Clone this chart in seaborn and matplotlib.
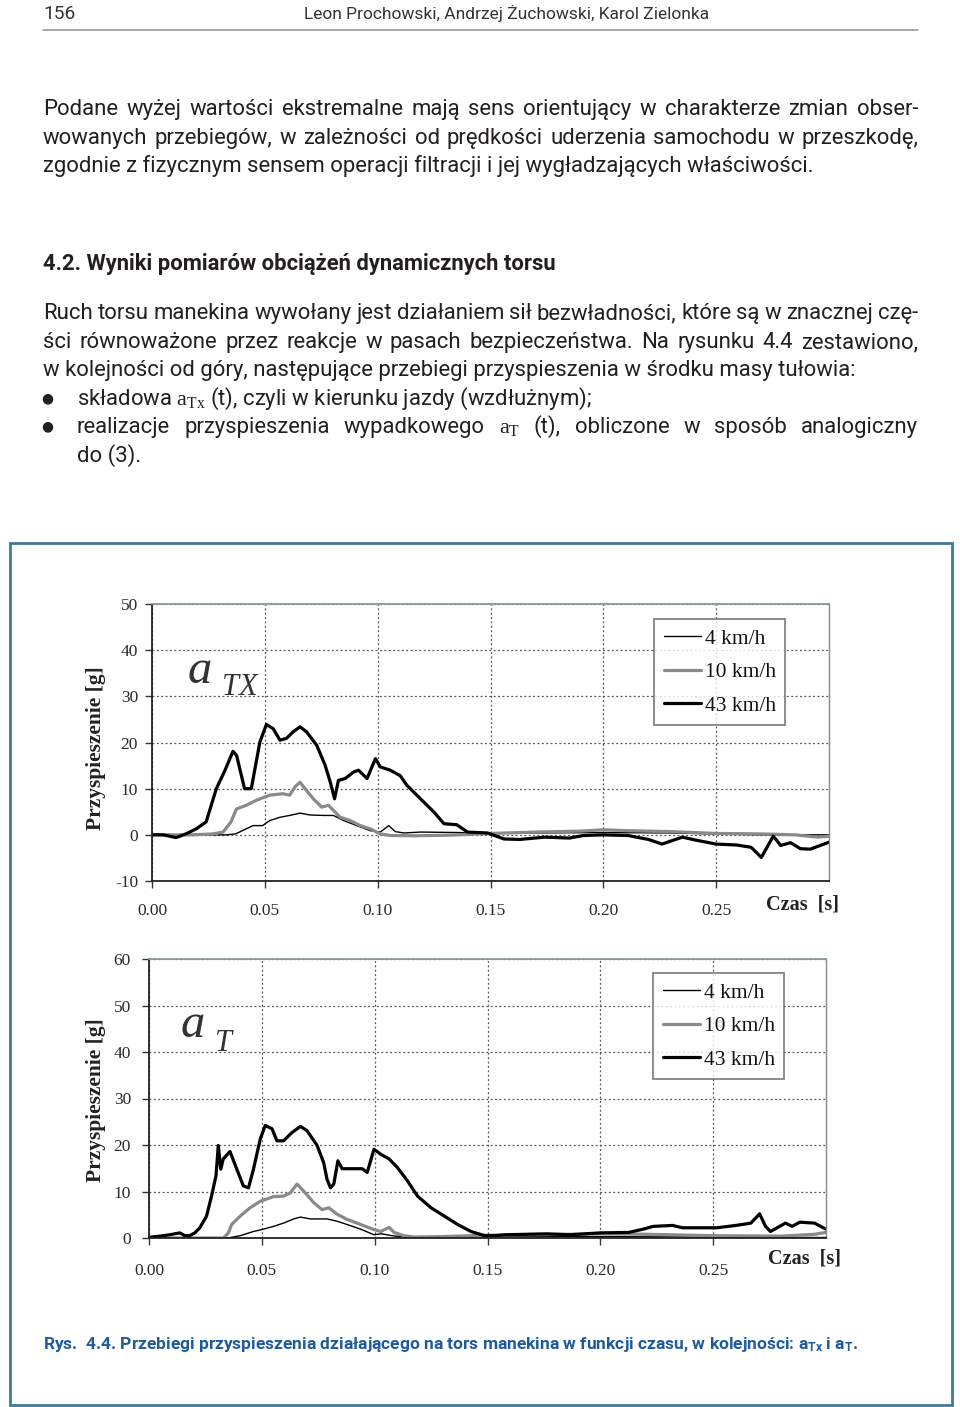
import matplotlib
matplotlib.use('Agg')
import matplotlib.pyplot as plt
import seaborn as sns
import pandas as pd
from matplotlib.patches import Rectangle

# ---------------- data: a_Tx (upper chart) ----------------
tx_t_43 = [0, 0.005, 0.0107, 0.015, 0.0196, 0.024, 0.0285, 0.032, 0.0359, 0.0375,
           0.041, 0.044, 0.0478, 0.0507, 0.0537, 0.0567, 0.0596, 0.0625, 0.0656, 0.0685,
           0.073, 0.0767, 0.079, 0.0809, 0.0826, 0.0856, 0.0893, 0.0915, 0.0953, 0.099,
           0.1012, 0.1056, 0.110, 0.113, 0.119, 0.125, 0.1294, 0.135, 0.1398, 0.1487,
           0.156, 0.163, 0.174, 0.185, 0.191, 0.2, 0.211, 0.22, 0.226, 0.235,
           0.2415, 0.25, 0.259, 0.2655, 0.27, 0.273, 0.2753, 0.2786, 0.283, 0.2873,
           0.2917, 0.30]
tx_v_43 = [0, 0, -0.6, 0.2, 1.3, 2.8, 10, 13.6, 18.1, 17.2,
           10, 10, 20.1, 23.9, 23, 20.5, 20.9, 22.3, 23.4, 22.3,
           19.4, 15.1, 11.4, 7.8, 11.8, 12.2, 13.6, 14, 12.2, 16.5,
           14.7, 14, 12.8, 10.7, 7.8, 4.9, 2.4, 2.2, 0.6, 0.4,
           -0.9, -1, -0.5, -0.7, -0.15, 0, -0.15, -1, -2, -0.5,
           -1.2, -2, -2.2, -2.7, -4.9, -2.3, -0.3, -2.3, -1.7, -3,
           -3.1, -1.6]
tx_t_10 = [0, 0.018, 0.027, 0.0315, 0.035, 0.0374, 0.0418, 0.0463, 0.0522, 0.058,
           0.061, 0.0634, 0.0656, 0.0678, 0.0715, 0.0752, 0.0782, 0.0804, 0.0834, 0.0878,
           0.0923, 0.0967, 0.1012, 0.1056, 0.115, 0.13, 0.15, 0.17, 0.19, 0.20,
           0.21, 0.23, 0.25, 0.27, 0.285, 0.295, 0.30]
tx_v_10 = [0, 0, 0.2, 0.6, 2.8, 5.6, 6.4, 7.5, 8.6, 8.9,
           8.6, 10.4, 11.4, 10, 7.8, 6, 6.4, 5.3, 3.8, 3.1,
           2, 1.3, 0.2, -0.15, -0.2, -0.1, 0.3, 0.6, 0.8, 1.1,
           0.9, 0.7, 0.3, 0.2, 0, -0.5, -0.3]
tx_t_4 = [0, 0.033, 0.037, 0.0448, 0.049, 0.0522, 0.0567, 0.061, 0.0656, 0.07,
          0.076, 0.0804, 0.0849, 0.0908, 0.0967, 0.1012, 0.1049, 0.1078, 0.1116, 0.119,
          0.135, 0.15, 0.17, 0.20, 0.23, 0.25, 0.27, 0.30]
tx_v_4 = [0, 0, 0.2, 2, 2, 3.1, 3.8, 4.2, 4.7, 4.3,
          4.2, 4.2, 3.1, 2, 0.9, 0.6, 2, 0.7, 0.4, 0.6,
          0.5, 0.3, 0.4, 0.5, 0.4, 0.2, 0, 0]

# ---------------- data: a_T (lower chart) ----------------
t_t_43 = [0, 0.0047, 0.0092, 0.0136, 0.0159, 0.018, 0.0203, 0.0225, 0.0255, 0.0277,
          0.0297, 0.0307, 0.0318, 0.0329, 0.0359, 0.0389, 0.0418, 0.0441, 0.0463, 0.0493,
          0.0515, 0.0545, 0.0567, 0.0596, 0.0634, 0.0671, 0.07, 0.0745, 0.0774, 0.0789,
          0.0804, 0.0819, 0.0837, 0.0856, 0.0908, 0.0945, 0.0967, 0.0997, 0.1027, 0.1064,
          0.110, 0.1145, 0.119, 0.125, 0.1309, 0.1368, 0.1427, 0.1487, 0.153, 0.158,
          0.176, 0.1866, 0.20, 0.2126, 0.219, 0.2234, 0.232, 0.2364, 0.243, 0.2516,
          0.26, 0.2667, 0.2706, 0.2732, 0.2754, 0.282, 0.285, 0.2884, 0.2949, 0.30]
t_v_43 = [0.15, 0.4, 0.7, 1.1, 0.5, 0.5, 1.1, 2.2, 4.7, 9,
          13.4, 19.9, 14.8, 17, 18.6, 14.8, 11.2, 10.8, 14.8, 21.3,
          24.2, 23.5, 20.9, 20.9, 22.7, 24, 23.1, 19.9, 16.2, 12.6,
          10.8, 11.6, 16.6, 14.9, 14.9, 14.9, 14.1, 19.1, 18, 17,
          15.2, 12.3, 9, 6.5, 4.7, 2.9, 1.4, 0.5, 0.5, 0.7,
          0.9, 0.7, 1.1, 1.2, 1.9, 2.5, 2.7, 2.2, 2.2, 2.2,
          2.7, 3.2, 5.2, 2.5, 1.4, 3.2, 2.5, 3.4, 3.2, 1.9]
t_t_10 = [0, 0.033, 0.0352, 0.0366, 0.0404, 0.0448, 0.0493, 0.0552, 0.0596, 0.0626,
          0.0656, 0.0685, 0.073, 0.0767, 0.0797, 0.0834, 0.0878, 0.0938, 0.0997, 0.1027,
          0.1064, 0.1086, 0.113, 0.1175, 0.13, 0.15, 0.17, 0.20, 0.22, 0.25,
          0.28, 0.295, 0.30]
t_v_10 = [0, 0, 1.1, 2.9, 4.7, 6.5, 7.9, 8.9, 9, 9.7,
          11.6, 10.1, 7.6, 6.1, 6.5, 5.1, 4, 2.9, 1.8, 1.4,
          2.3, 1.2, 0.5, 0.2, 0.3, 0.6, 0.7, 0.9, 0.8, 0.5,
          0.4, 0.8, 1.2]
t_t_4 = [0, 0.035, 0.0404, 0.0463, 0.0507, 0.0552, 0.0596, 0.0641, 0.0671, 0.0715,
         0.0789, 0.0834, 0.0878, 0.0938, 0.0997, 0.103, 0.1076, 0.115, 0.15, 0.20,
         0.25, 0.30]
t_v_4 = [0, 0, 0.5, 1.4, 1.9, 2.5, 3.2, 4.1, 4.5, 4.1,
         4.1, 3.6, 2.9, 1.9, 0.7, 0.9, 0.5, 0.1, 0.3, 0.3,
         0.2, 0.1]

series_labels = ['4 km/h', '10 km/h', '43 km/h']
x_ticks = [0.00, 0.05, 0.10, 0.15, 0.20, 0.25]
x_ticklabels = ['0.00', '0.05', '0.10', '0.15', '0.20', '0.25']
y_ticks_tx = [-10, 0, 10, 20, 30, 40, 50]
y_ticks_t = [0, 10, 20, 30, 40, 50, 60]

# ---------------- text ----------------
header_num = '156'
header_auth = 'Leon Prochowski, Andrzej Żuchowski, Karol Zielonka'
par1 = ['Podane wyżej wartości ekstremalne mają sens orientujący w charakterze zmian obser-',
        'wowanych przebiegów, w zależności od prędkości uderzenia samochodu w przeszkodę,',
        'zgodnie z fizycznym sensem operacji filtracji i jej wygładzających właściwości.']
heading = '4.2. Wyniki pomiarów obciążeń dynamicznych torsu'
par2 = ['Ruch torsu manekina wywołany jest działaniem sił bezwładności, które są w znacznej czę-',
        'ści równoważone przez reakcje w pasach bezpieczeństwa. Na rysunku 4.4 zestawiono,',
        'w kolejności od góry, następujące przebiegi przyspieszenia w środku masy tułowia:']
bullet1 = r'składowa $\mathrm{a}_{\mathrm{Tx}}$ (t), czyli w kierunku jazdy (wzdłużnym);'
bullet2 = r'realizacje przyspieszenia wypadkowego $\mathrm{a}_{\mathrm{T}}$ (t), obliczone w sposób analogiczny'
bullet2b = 'do (3).'
caption = r'Rys.  4.4. Przebiegi przyspieszenia działającego na tors manekina w funkcji czasu, w kolejności: a$_{\mathsf{Tx}}$ i a$_{\mathsf{T}}$.'

sns.set_theme(style='white')
plt.rcParams['font.family'] = ['Roboto', 'DejaVu Sans']
plt.rcParams['mathtext.fontset'] = 'custom'
plt.rcParams['mathtext.rm'] = 'Liberation Serif'
plt.rcParams['mathtext.it'] = 'Liberation Serif:italic'
plt.rcParams['mathtext.bf'] = 'Liberation Serif:bold'
plt.rcParams['mathtext.sf'] = 'Roboto:bold'

W, H = 960, 1407
fig = plt.figure(figsize=(W / 100, H / 100), dpi=100)
fig.patch.set_facecolor('white')
bg = fig.add_axes([0, 0, 1, 1])
bg.set_xlim(0, W)
bg.set_ylim(H, 0)
bg.axis('off')
renderer = fig.canvas.get_renderer()

TXT = '#231f20'


def width_of(t):
    return t.get_window_extent(renderer=renderer).width


def fit_text(s, x, y, width, **kw):
    t = bg.text(x, y, s, fontsize=10, va='baseline', ha='left', **kw)
    w = width_of(t)
    t.set_fontsize(10 * width / w)
    return t


def justify(s, x0, x1, y, fs, **kw):
    words = s.split(' ')
    objs = [bg.text(0, y, w_, fontsize=fs, va='baseline', ha='left', **kw) for w_ in words]
    ws = [width_of(o) for o in objs]
    gap = (x1 - x0 - sum(ws)) / (len(words) - 1)
    x = x0
    for o, w_ in zip(objs, ws):
        o.set_x(x)
        x += w_ + gap


# header
fit_text(header_num, 43, 19, 32, color='#333333')
fit_text(header_auth, 304, 19, 404, color='#333333')
bg.plot([43, 918], [30, 30], color='#9a9a9a', lw=1.2)

# paragraph font size fitted on the free last line
probe = bg.text(0, 0, par1[2], fontsize=10)
fs_par = 10 * 774 / width_of(probe)
probe.remove()

justify(par1[0], 43, 918, 115, fs_par, color=TXT)
justify(par1[1], 43, 918, 144, fs_par, color=TXT)
bg.text(43, 172, par1[2], fontsize=fs_par, va='baseline', color=TXT)

fit_text(heading, 43, 270, 515, weight='bold', color=TXT)

justify(par2[0], 43, 918, 319, fs_par, color=TXT)
justify(par2[1], 43, 918, 348, fs_par, color=TXT)
bg.text(43, 376, par2[2], fontsize=fs_par, va='baseline', color=TXT)
for yb in (398, 426):
    bg.text(47.5, yb, '●', fontsize=fs_par * 0.62, ha='center', va='center',
            family=['DejaVu Sans'], color=TXT)
bg.text(77, 405, bullet1, fontsize=fs_par, va='baseline', color=TXT)
justify(bullet2, 77, 918, 433, fs_par, color=TXT)
bg.text(77, 462, bullet2b, fontsize=fs_par, va='baseline', color=TXT)

# figure box and caption
bg.add_patch(Rectangle((10, 543), 942, 862, fill=False, ec='#3f7a98', lw=2))
fit_text(caption, 43, 1349, 815, weight='bold', color='#1f5b9c')

SERIF = 'Liberation Serif'
styles = {'4 km/h': dict(color='black', lw=1.0),
          '10 km/h': dict(color='#8a8a8a', lw=2.3),
          '43 km/h': dict(color='black', lw=2.3)}


def make_chart(rect, data, ylim, yticks, legend_anchor, ylab_xy, czas_xy, a_xy, sub_xy, sub, xpad, ypad):
    ax = fig.add_axes(rect)
    for lab, (tt, vv) in zip(series_labels, data):
        df = pd.DataFrame({'t': tt, 'v': vv})
        sns.lineplot(data=df, x='t', y='v', ax=ax, estimator=None, sort=False,
                     label=lab, **styles[lab])
    ax.set_xlim(0, 0.30)
    ax.set_ylim(*ylim)
    ax.set_xticks(x_ticks)
    ax.set_xticklabels(x_ticklabels)
    ax.set_yticks(yticks)
    ax.set_yticklabels([str(v) for v in yticks])
    ax.set_xlabel('')
    ax.set_ylabel('')
    ax.grid(True, linestyle=(0, (1.5, 2.0)), color='#555555', lw=0.9)
    ax.tick_params(axis='x', bottom=True, direction='out', length=5, width=1,
                   pad=xpad, labelsize=12.5, labelcolor='#2a2a2a', color='#333333')
    ax.tick_params(axis='y', left=True, direction='out', length=5, width=1,
                   pad=ypad, labelsize=12.5, labelcolor='#2a2a2a', color='#333333')
    for lbl in ax.get_xticklabels() + ax.get_yticklabels():
        lbl.set_family(SERIF)
    for s_, c_, w_ in [('left', '#222222', 1.3), ('bottom', '#222222', 1.3),
                       ('top', '#8a9a8a', 1.3), ('right', '#888888', 1.0)]:
        ax.spines[s_].set_visible(True)
        ax.spines[s_].set_color(c_)
        ax.spines[s_].set_linewidth(w_)
    leg = ax.legend(loc='upper left', bbox_to_anchor=legend_anchor, frameon=True,
                    fancybox=False, shadow=False, prop={'family': SERIF, 'size': 15.5},
                    handlelength=1.75, handletextpad=0.15, labelspacing=0.62,
                    borderpad=0.45, borderaxespad=0)
    leg.get_frame().set_edgecolor('#666666')
    leg.get_frame().set_linewidth(1.3)
    for txt in leg.get_texts():
        txt.set_color('#111111')
    T = bg.transData
    ax.text(ylab_xy[0], ylab_xy[1], 'Przyspieszenie [g]', rotation=90, ha='center', va='center',
            family=SERIF, weight='bold', fontsize=15.5, color='#222222', transform=T)
    ax.text(czas_xy[0], czas_xy[1], 'Czas  [s]', ha='center', va='center',
            family=SERIF, weight='bold', fontsize=14.5, color='#222222', transform=T)
    ax.text(a_xy[0], a_xy[1], 'a', ha='center', va='baseline', family=SERIF,
            style='italic', fontsize=35, color='#333333', transform=T, zorder=5)
    ax.text(sub_xy[0], sub_xy[1], sub, ha='left', va='baseline', family=SERIF,
            style='italic', fontsize=22, color='#333333', transform=T, zorder=5)
    return ax


ax1 = make_chart([152 / W, 1 - 881 / H, 677 / W, 277 / H],
                 [(tx_t_4, tx_v_4), (tx_t_10, tx_v_10), (tx_t_43, tx_v_43)],
                 (-10, 50), y_ticks_tx, (0.7415, 0.946),
                 (96, 748), (803, 905), (200, 683), (222, 695), 'TX', 11, 5)
ax2 = make_chart([149 / W, 1 - 1238 / H, 677 / W, 279 / H],
                 [(t_t_4, t_v_4), (t_t_10, t_v_10), (t_t_43, t_v_43)],
                 (0, 60), y_ticks_t, (0.7445, 0.95),
                 (96, 1100), (805, 1258), (193, 1037), (215, 1051), 'T', 13, 8)

fig.savefig('out.png', dpi=100, facecolor='white')
